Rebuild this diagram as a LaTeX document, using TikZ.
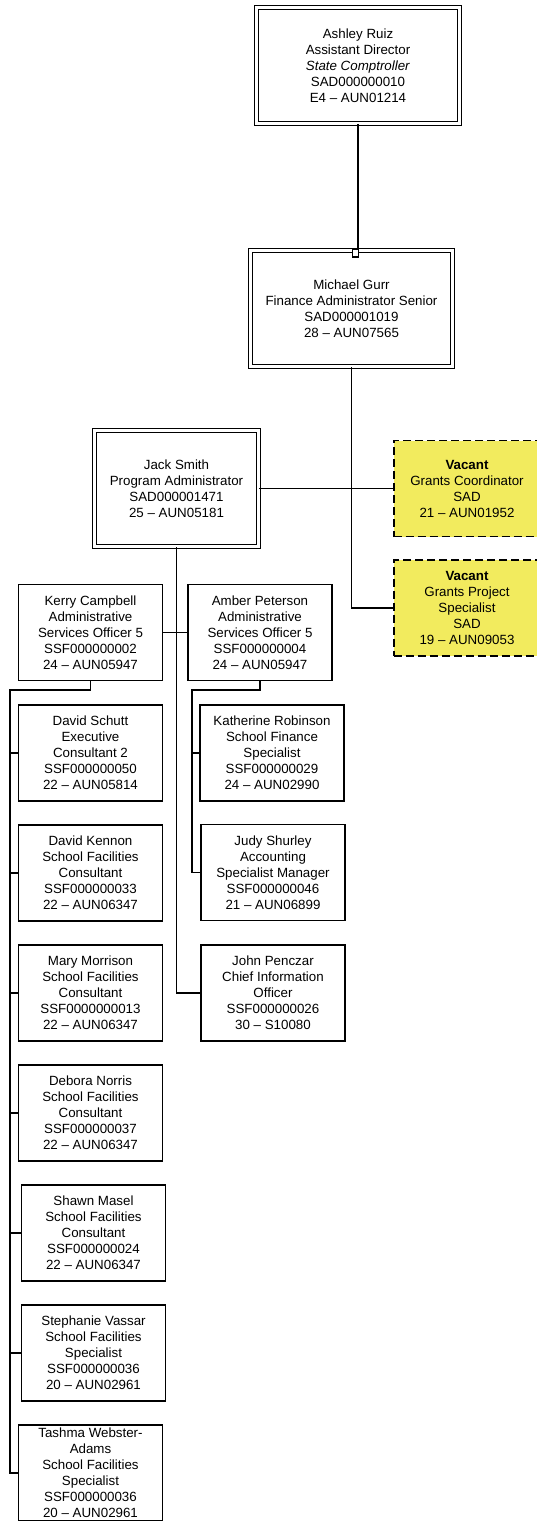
\documentclass[tikz,border=0pt]{standalone}
\usepackage{fontspec}
\setmainfont{Liberation Sans}
\usetikzlibrary{arrows}

\definecolor{vacantyellow}{RGB}{242,235,94}

\begin{document}
\begin{tikzpicture}[-,x=0.75pt,y=-0.75pt,line width=1.3pt,
  every node/.style={font=\fontsize{10}{12}\selectfont,align=center,inner sep=0pt},
  main node/.style={rectangle,draw,line width=1.2pt,minimum width=108pt,minimum height=72pt},
  head node/.style={rectangle,draw,double,double distance=2.1pt,line width=0.9pt,minimum height=87pt},
  vacant node/.style={rectangle,draw,dash pattern=on 6pt off 3pt,fill=vacantyellow,line width=1.3pt,minimum width=110pt,minimum height=72pt}]

  \useasboundingbox (0,0) rectangle (536,1521);

  \node[head node, minimum width=152.25pt] (1) at (358,65.25) {Ashley Ruiz\\Assistant Director\\\textit{State Comptroller}\\SAD000000010\\E4 – AUN01214};
  \node[head node, minimum width=151.5pt] (2) at (351.5,308.5) {Michael Gurr\\Finance Administrator Senior\\SAD000001019\\28 – AUN07565};
  \node[head node, minimum width=123pt] (3) at (176.5,488.5) {Jack Smith\\Program Administrator\\SAD000001471\\25 – AUN05181};

  \node[vacant node] (4) at (467,488.5) {\textbf{Vacant}\\Grants Coordinator\\SAD\\21 – AUN01952};
  \node[vacant node] (5) at (467,608) {\textbf{Vacant}\\Grants Project\\Specialist\\SAD\\19 – AUN09053};

  \node[main node] (6) at (90.5,632.5) {Kerry Campbell\\Administrative\\Services Officer 5\\SSF000000002\\24 – AUN05947};
  \node[main node] (7) at (260,632.5) {Amber Peterson\\Administrative\\Services Officer 5\\SSF000000004\\24 – AUN05947};

  \node[main node] (8) at (272,753) {Katherine Robinson\\School Finance\\Specialist\\SSF000000029\\24 – AUN02990};
  \node[main node] (9) at (273,872.5) {Judy Shurley\\Accounting\\Specialist Manager\\SSF000000046\\21 – AUN06899};
  \node[main node] (10) at (273,993) {John Penczar\\Chief Information\\Officer\\SSF000000026\\30 – S10080};

  \node[main node] (11) at (90.5,753) {David Schutt\\Executive\\Consultant 2\\SSF000000050\\22 – AUN05814};
  \node[main node] (12) at (90.5,873) {David Kennon\\School Facilities\\Consultant\\SSF000000033\\22 – AUN06347};
  \node[main node] (13) at (90.5,993) {Mary Morrison\\School Facilities\\Consultant\\SSF0000000013\\22 – AUN06347};
  \node[main node] (14) at (90.5,1113) {Debora Norris\\School Facilities\\Consultant\\SSF000000037\\22 – AUN06347};
  \node[main node] (15) at (93.5,1233) {Shawn Masel\\School Facilities\\Consultant\\SSF000000024\\22 – AUN06347};
  \node[main node] (16) at (93.5,1353) {Stephanie Vassar\\School Facilities\\Specialist\\SSF000000036\\20 – AUN02961};
  \node[main node] (17) at (90.5,1473) {Tashma Webster-\\Adams\\School Facilities\\Specialist\\SSF000000036\\20 – AUN02961};

  \coordinate (kbus) at (10,690);
  \coordinate (abus) at (192,690);

  \draw (1.south) -- (1.south |- 2.north);
  \node[rectangle,draw,fill=white,line width=0.8pt,minimum width=5pt,minimum height=6pt] (tap) at (355.5,253) {};

  \draw (2.south) |- (5.west);
  \draw (3.east) -- (4.west);
  \draw (3.south) |- (10.west);
  \draw (6.east) -- (7.west);

  \draw (6.south) |- (kbus) |- (17.west);
  \foreach \n in {11,...,16}
    \draw (kbus |- \n.west) -- (\n.west);

  \draw (7.south) |- (abus) |- (9.west);
  \draw (abus |- 8.west) -- (8.west);
\end{tikzpicture}
\end{document}
